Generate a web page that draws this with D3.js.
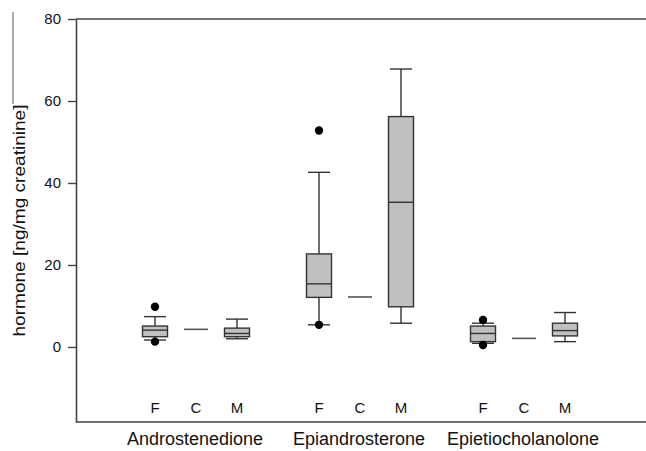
<!DOCTYPE html>
<html>
<head>
<meta charset="utf-8">
<script src="https://cdn.jsdelivr.net/npm/d3@7"></script>
<style>
  html, body { margin: 0; padding: 0; background: #fff; }
  svg { display: block; }
  text { font-family: Arial, "Liberation Sans", sans-serif; fill: #111; }
</style>
</head>
<body>
<svg id="chart" width="646" height="451"></svg>
<script>
// ---- data ----
const groups = ["Androstenedione", "Epiandrosterone", "Epietiocholanolone"];
const subgroups = ["F", "C", "M"];
// order: A-F, A-C, A-M, E-F, E-C, E-M, Et-F, Et-C, Et-M
const whiskerLow  = [1.7, 4.3, 2.0,  5.4, 12.2,  5.8, 0.9, 2.1, 1.3];
const q1          = [2.5, 4.3, 2.5, 12.1, 12.2,  9.8, 1.3, 2.1, 2.7];
const median      = [4.1, 4.3, 3.3, 15.4, 12.2, 35.3, 3.3, 2.1, 4.0];
const q3          = [5.1, 4.3, 4.6, 22.7, 12.2, 56.2, 5.1, 2.1, 5.8];
const whiskerHigh = [7.4, 4.3, 6.8, 42.6, 12.2, 67.8, 5.8, 2.1, 8.4];
const outlierGroup = ["Androstenedione", "Androstenedione", "Epiandrosterone", "Epiandrosterone", "Epietiocholanolone", "Epietiocholanolone"];
const outlierSub   = ["F", "F", "F", "F", "F", "F"];
const outlierValue = [9.8, 1.3, 52.8, 5.4, 6.6, 0.5];
const yTicks = [0, 20, 40, 60, 80];
const yTitle = "hormone [ng/mg creatinine]";

// ---- layout ----
const svg = d3.select("#chart");
const mLeft = 76, mTop = 19, mBottom = 422, mRight = 646;

const y = d3.scaleLinear().domain([-18.3, 80]).range([mBottom, mTop]);
const xGroup = d3.scaleBand().domain(groups).range([114, 606]);
const xSub = d3.scalePoint().domain(subgroups).range([0, xGroup.bandwidth()]).padding(1);

const boxes = [];
groups.forEach((g, gi) => subgroups.forEach((s, si) => {
  const i = gi * 3 + si;
  boxes.push({g, s, lo: whiskerLow[i], q1: q1[i], med: median[i], q3: q3[i], hi: whiskerHigh[i]});
}));
const cx = d => xGroup(d.g) + xSub(d.s);

const boxW = 25, capW = 22, lineCol = "#333", axisCol = "#444";

// frame lines
svg.append("line").attr("x1", mLeft).attr("x2", mRight).attr("y1", y(80)).attr("y2", y(80))
  .attr("stroke", axisCol).attr("stroke-width", 1.6);
svg.append("line").attr("x1", mLeft).attr("x2", mRight).attr("y1", mBottom).attr("y2", mBottom)
  .attr("stroke", axisCol).attr("stroke-width", 1.6);

// y axis
const yAxis = svg.append("g").attr("transform", `translate(${mLeft},0)`)
  .call(d3.axisLeft(y).tickValues(yTicks).tickSize(8).tickSizeOuter(0).tickPadding(7));
yAxis.select(".domain").attr("stroke", axisCol).attr("stroke-width", 1.6);
yAxis.selectAll(".tick line").attr("stroke", axisCol).attr("stroke-width", 1.4);
yAxis.selectAll(".tick text").attr("font-size", 15).attr("fill", "#111")
  .attr("font-family", "Arial, 'Liberation Sans', sans-serif");

// y title
svg.append("text")
  .attr("transform", `translate(25,${(104 + 337) / 2}) rotate(-90)`)
  .attr("text-anchor", "middle")
  .attr("font-size", 16)
  .attr("textLength", 232).attr("lengthAdjust", "spacingAndGlyphs")
  .text(yTitle);
svg.append("line").attr("x1", 13).attr("x2", 13).attr("y1", 12).attr("y2", 104)
  .attr("stroke", "#555").attr("stroke-width", 1);

// boxes
const bx = svg.append("g");
boxes.forEach(d => {
  const c = cx(d);
  if (d.q1 === d.q3) {
    bx.append("line").attr("x1", c - 12).attr("x2", c + 12)
      .attr("y1", y(d.med)).attr("y2", y(d.med))
      .attr("stroke", "#555").attr("stroke-width", 1.6);
    return;
  }
  bx.append("line").attr("x1", c).attr("x2", c).attr("y1", y(d.hi)).attr("y2", y(d.q3))
    .attr("stroke", lineCol).attr("stroke-width", 1.4);
  bx.append("line").attr("x1", c).attr("x2", c).attr("y1", y(d.q1)).attr("y2", y(d.lo))
    .attr("stroke", lineCol).attr("stroke-width", 1.4);
  [d.hi, d.lo].forEach(v => bx.append("line")
    .attr("x1", c - capW / 2).attr("x2", c + capW / 2).attr("y1", y(v)).attr("y2", y(v))
    .attr("stroke", lineCol).attr("stroke-width", 1.4));
  bx.append("rect").attr("x", c - boxW / 2).attr("width", boxW)
    .attr("y", y(d.q3)).attr("height", y(d.q1) - y(d.q3))
    .attr("fill", "#c0c0c0").attr("stroke", lineCol).attr("stroke-width", 1.4);
  bx.append("line").attr("x1", c - boxW / 2).attr("x2", c + boxW / 2)
    .attr("y1", y(d.med)).attr("y2", y(d.med))
    .attr("stroke", lineCol).attr("stroke-width", 1.4);
});

// outliers
svg.append("g").selectAll("circle").data(outlierValue).join("circle")
  .attr("cx", (v, i) => xGroup(outlierGroup[i]) + xSub(outlierSub[i]))
  .attr("cy", v => y(v))
  .attr("r", 4.2).attr("fill", "#000");

// sub labels
groups.forEach(g => subgroups.forEach(s => {
  svg.append("text").attr("x", xGroup(g) + xSub(s)).attr("y", 413)
    .attr("text-anchor", "middle").attr("font-size", 15).text(s);
}));

// group labels
groups.forEach(g => {
  svg.append("text").attr("x", xGroup(g) + xGroup.bandwidth() / 2 - 1).attr("y", 445)
    .attr("text-anchor", "middle").attr("font-size", 18)
    .text(g);
});
</script>
</body>
</html>
